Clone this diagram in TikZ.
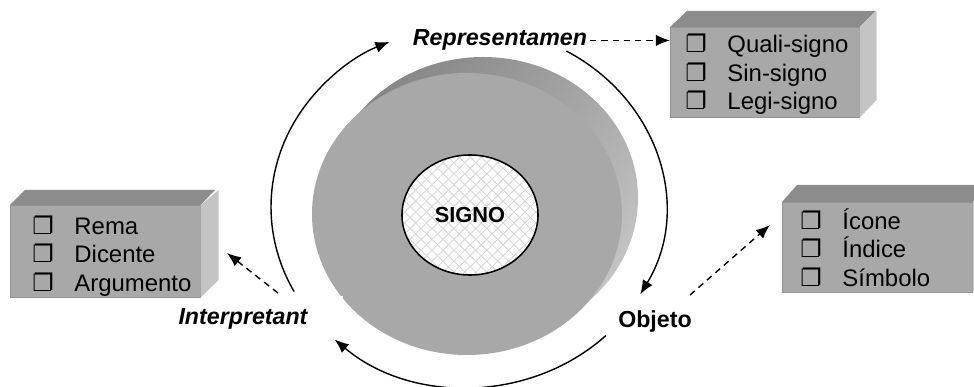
\documentclass[tikz,border=0pt]{standalone}
\usepackage{fontspec}
\setmainfont{Liberation Sans}
\newfontfamily\dingfont{DejaVu Sans}
\usetikzlibrary{arrows.meta,patterns.meta,shapes.geometric,shadings}

\newcommand{\chkbox}{\makebox[30pt][l]{\dingfont\bfseries ❐}}

\begin{document}
\begin{tikzpicture}[x=0.025cm,y=0.025cm,>={Latex[length=10pt,width=8pt]},
  item/.style={anchor=base west, inner sep=0pt, font=\fontsize{17}{20}\selectfont},
  lbl/.style={anchor=base, fill=white, inner sep=2pt, font=\fontsize{16.5}{20}\selectfont\bfseries\itshape},
  frontface/.style={fill=black!34, draw=black!42, line width=0.4pt, inner sep=0pt, anchor=north west},
  topface/.style={fill=black!45},
  sideface/.style={fill=black!23},
  cycle/.style={line width=1pt,->},
  link/.style={line width=1pt,dash pattern=on 4.5pt off 3.5pt,->}]
  \useasboundingbox (0,0) rectangle (974,387);

  % Disk of the sign
  \shade[upper left=black!52, upper right=black!34, lower left=black!40, lower right=black!18]
    (483,189) ellipse [x radius=155, y radius=141];
  \fill[black!34] (467,173) ellipse [x radius=155, y radius=141];
  \node[ellipse, draw, line width=1.1pt, minimum width=3.4cm, minimum height=3cm,
    preaction={fill=white},
    preaction={pattern={Lines[angle=45,distance=5.5pt,line width=0.6pt]}, pattern color=black!16},
    preaction={pattern={Lines[angle=-45,distance=5.5pt,line width=0.6pt]}, pattern color=black!16},
    font=\fontsize{15.5}{18}\selectfont\bfseries] (signo) at (470,172) {SIGNO};

  % Labels of the triad
  \node[lbl] (repr) at (500,341) {Representamen};
  \node[lbl, inner xsep=25pt, inner ysep=9pt] (interp) at (243,62) {Interpretant};
  \node[lbl, font=\fontsize{16.5}{20}\selectfont\bfseries] (obj) at (655,59) {Objeto};

  % Cycle arcs
  \coordinate (hub) at (468,180);
  \draw[cycle] ([shift={(208:197 and 180)}]hub) arc[start angle=208, end angle=113.5, x radius=197, y radius=180];
  \draw[cycle] ([shift={(60:197 and 180)}]hub) arc[start angle=60, end angle=-29, x radius=197, y radius=180];
  \draw[cycle] ([shift={(-45.6:197 and 180)}]hub) arc[start angle=-45.6, end angle=-132.6, x radius=197, y radius=180];

  % Box: Representamen
  \node[frontface, minimum width=4.725cm, minimum height=2.25cm] (reprbox) at (670,360) {};
  \fill[topface] (reprbox.north west) -- ++(17,16) -- ++(189,0) -- (reprbox.north east) -- cycle;
  \fill[sideface] (reprbox.north east) -- ++(17,16) -- ++(0,-89) -- (reprbox.south east) -- cycle;
  \begin{scope}
    \clip (reprbox.south west) rectangle (reprbox.north east);
    \node[item] (quali) at (685,334) {\chkbox Quali-signo};
    \node[item] (sin) at (685,305) {\chkbox Sin-signo};
    \node[item] (legi) at (685,277) {\chkbox Legi-signo};
  \end{scope}

  % Box: Interpretant
  \node[frontface, minimum width=4.75cm, minimum height=2.3cm] (intbox) at (10,182) {};
  \fill[topface] (intbox.north west) -- ++(15,15) -- ++(190,0) -- (intbox.north east) -- cycle;
  \fill[sideface] (intbox.north east) -- ++(18,15) -- ++(0,-90) -- (intbox.south east) -- cycle;
  \begin{scope}
    \clip (intbox.south west) rectangle (intbox.north east);
    \node[item] (rema) at (32,152) {\chkbox Rema};
    \node[item] (dicente) at (32,124) {\chkbox Dicente};
    \node[item] (argumento) at (32,95) {\chkbox Argumento};
  \end{scope}

  % Box: Objeto
  \node[frontface, minimum width=4.75cm, minimum height=2.25cm] (objbox) at (782,185) {};
  \fill[topface] (objbox.north west) -- ++(15,17) -- ++(193,0) -- (objbox.north east) -- cycle;
  \fill[sideface] (objbox.north east) -- ++(18,17) -- ++(0,-90) -- (objbox.south east) -- cycle;
  \begin{scope}
    \clip (objbox.south west) rectangle (objbox.north east);
    \node[item] (icone) at (800,157) {\chkbox Ícone};
    \node[item] (indice) at (800,129) {\chkbox Índice};
    \node[item] (simbolo) at (800,100) {\chkbox Símbolo};
  \end{scope}

  % Dashed links to the boxes
  \coordinate (intfrom) at (278,94);
  \coordinate (intto) at (227,134);
  \coordinate (objfrom) at (690,92);
  \coordinate (objto) at (770,162);
  \draw[link] (repr.east) -- (repr.east -| reprbox.west);
  \draw[link] (intfrom) -- (intto);
  \draw[link] (objfrom) -- (objto);
\end{tikzpicture}
\end{document}
